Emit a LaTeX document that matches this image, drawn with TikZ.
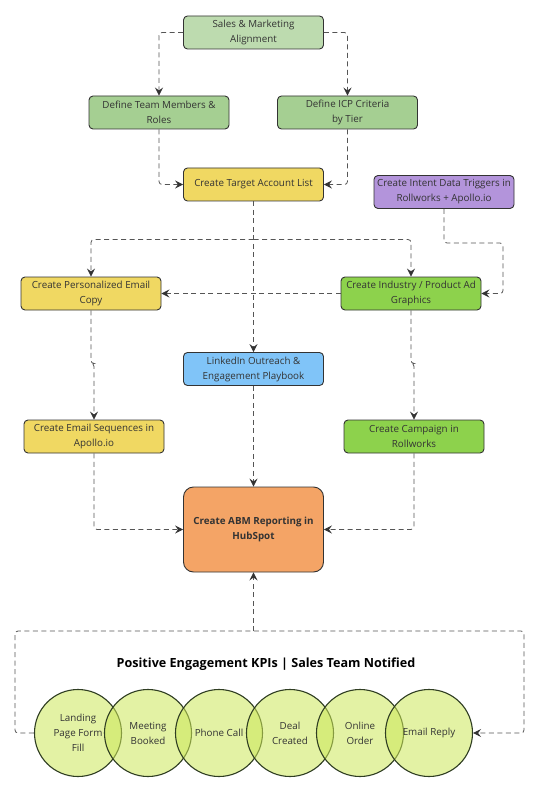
\documentclass[tikz,border=0pt]{standalone}
\usepackage{fontspec}
\setmainfont{Open Sans}
\usetikzlibrary{arrows.meta}
\definecolor{cSales}{HTML}{BDDBAF}
\definecolor{cDef}{HTML}{A5CF92}
\definecolor{cYel}{HTML}{F0D862}
\definecolor{cPur}{HTML}{B394DB}
\definecolor{cGrn}{HTML}{8DD24C}
\definecolor{cBlue}{HTML}{80C4F8}
\definecolor{cOra}{HTML}{F4A466}
\definecolor{cLine}{HTML}{555555}
\definecolor{cEdge}{HTML}{333333}
\definecolor{cCirc}{HTML}{CDE85A}
\definecolor{cCircE}{HTML}{2F3D22}
\begin{document}
\begin{tikzpicture}[x=1pt,y=-1pt,
 box/.style={draw=cEdge, line width=0.9pt, rounded corners=4pt, minimum width=140pt, minimum height=33pt, inner sep=1pt, align=center, font=\fontsize{9.8}{15}\selectfont, text=black!80},
 conn/.style={draw=cLine, line width=0.8pt, dash pattern=on 5pt off 3.5pt, rounded corners=3pt},
 arr/.style={conn, -{Stealth[length=8pt,width=8pt,inset=3pt,color=cEdge]}},
 kpi/.style={circle, draw=cCircE, line width=1.1pt, fill=cCirc, fill opacity=0.55, text opacity=1, minimum size=87pt, inner sep=0pt, align=center, font=\fontsize{9.8}{15}\selectfont, text=black!80}
]
\useasboundingbox (0,0) rectangle (556,794);
\fill[white] (0,0) rectangle (556,794);

\node[box, fill=cSales] (sales) at (253.5,32.5) {Sales \& Marketing\\Alignment};
\node[box, fill=cDef] (team) at (159,112.5) {Define Team Members \&\\Roles};
\node[box, fill=cDef] (icp) at (347.5,112.5) {Define ICP Criteria\\by Tier};
\node[box, fill=cYel] (tal) at (253.5,184.5) {Create Target Account List};
\node[box, fill=cPur] (intent) at (444,192) {Create Intent Data Triggers in\\Rollworks + Apollo.io};
\node[box, fill=cYel] (pec) at (91,293.5) {Create Personalized Email\\Copy};
\node[box, fill=cGrn] (ind) at (411,293.5) {Create Industry / Product Ad\\Graphics};
\node[box, fill=cBlue] (li) at (253.5,369) {LinkedIn Outreach \&\\Engagement Playbook};
\node[box, fill=cYel] (seq) at (94,436.5) {Create Email Sequences in\\Apollo.io};
\node[box, fill=cGrn] (camp) at (414,436.5) {Create Campaign in\\Rollworks};
\node[box, fill=cOra, minimum height=85pt, rounded corners=10pt, font=\bfseries\fontsize{9.8}{15}\selectfont] (abm) at (253.5,529.5) {Create ABM Reporting in\\HubSpot};

\node[font=\bfseries\fontsize{12.6}{15}\selectfont] (title) at (266,664) {Positive Engagement KPIs | Sales Team Notified};

\node[kpi] (k1) at (78,733) {Landing\\Page Form\\Fill};
\node[kpi] (k2) at (148,733) {Meeting\\Booked};
\node[kpi] (k3) at (219,733) {Phone Call};
\node[kpi] (k4) at (290,733) {Deal\\Created};
\node[kpi] (k5) at (360,733) {Online\\Order};
\node[kpi] (k6) at (429,733) {Email Reply};

\coordinate (split) at (253.5,239.5);
\coordinate (iturn) at (503,243);
\coordinate (lb) at (15,631);
\coordinate (rb) at (524,631);

\draw[arr] (sales.west) -| (team.north);
\draw[arr] (sales.east) -| (icp.north);
\draw[arr] (team.south) |- (tal.west);
\draw[arr] (icp.south) |- (tal.east);
\draw[arr] (tal.south) -- (li.north);
\draw[arr] (split) -| (pec.north);
\draw[arr] (split) -| (ind.north);
\draw[arr] (intent.south) |- (iturn) |- (ind.east);
\draw[arr] (ind.west) -- (pec.east);
\draw[arr] (pec.south) -- ++(0,53) -| (seq.north);
\draw[arr] (ind.south) -- ++(0,53) -| (camp.north);
\draw[arr] (li.south) -- (abm.north);
\draw[arr] (seq.south) |- (abm.west);
\draw[arr] (camp.south) |- (abm.east);
\draw[arr] (k1.west) -| (lb) -- (rb) |- (k6.east);
\draw[arr] (abm.south |- lb) -- (abm.south);
\end{tikzpicture}
\end{document}
